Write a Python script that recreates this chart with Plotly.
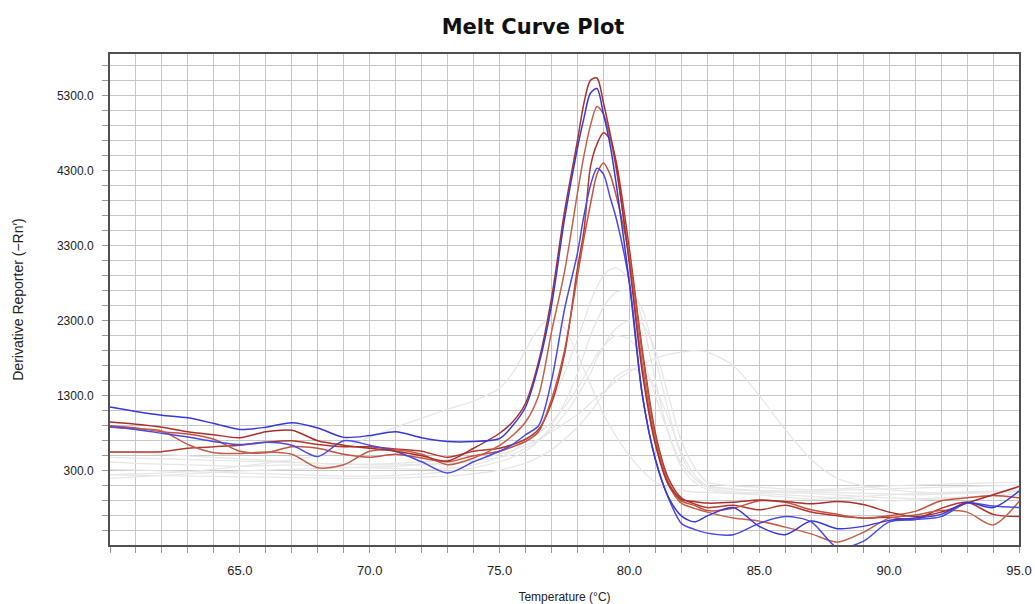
import plotly.graph_objects as go

# Temperature grid (°C)
temps = [60, 61, 62, 63, 64, 65, 66, 67, 68, 69, 70, 71, 72, 73, 74, 75,
         75.5, 76, 76.5, 77, 77.5, 78, 78.25, 78.5, 78.75, 79, 79.25, 79.5,
         80, 80.5, 81, 81.5, 82, 82.5, 83,
         84, 85, 86, 87, 88, 89, 90, 91, 92, 93, 94, 95]

# Highlighted wells (derivative reporter values)
blue_1 = [1150, 1090, 1040, 1005, 930, 850, 880, 940, 870, 745, 770, 820, 740, 690, 690, 730,
          900, 1150, 1700, 2500, 3650, 4600, 5000, 5330, 5390, 5050, 4650, 4100,
          2800, 1300, 450, -50, -300, -380, -300,
          -190, -440, -550, -370, -470, -440, -360, -330, -280, -120, -190, 30]
blue_2 = [890, 850, 800, 750, 690, 650, 680, 640, 490, 700, 640, 560, 420, 270, 420, 560,
          650, 780, 900, 1500, 2450, 3200, 3700, 4100, 4330, 4250, 3950, 3650,
          2800, 1300, 450, -60, -400, -480, -530,
          -550, -400, -310, -380, -720, -640, -380, -350, -310, -130, -170, -190]
red_1 = [950, 920, 880, 820, 780, 740, 820, 840, 700, 640, 600, 560, 500, 430, 600, 800,
         950, 1200, 1750, 2600, 3750, 4700, 5200, 5500, 5530, 5200, 4800, 4350,
         3050, 1600, 650, 120, -80, -110, -130,
         -120, -90, -110, -140, -110, -150, -250, -310, -250, -130, -20, 90]
red_2 = [880, 860, 830, 650, 540, 530, 550, 520, 340, 380, 560, 580, 520, 380, 470, 640,
         770, 950, 1300, 2150, 2950, 4000, 4500, 4900, 5150, 5050, 4750, 4300,
         3100, 1700, 700, 120, -130, -200, -250,
         -330, -370, -450, -540, -650, -520, -330, -290, -230, -250, -420, -110]
red_3 = [550, 550, 555, 600, 620, 640, 680, 700, 650, 620, 620, 590, 560, 480, 560, 600,
         650, 720, 850, 1200, 1850, 3000, 3500, 4350, 4650, 4800, 4720, 4400,
         3250, 1900, 800, 200, -60, -140, -190,
         -160, -220, -160, -250, -300, -330, -320, -350, -200, -120, -280, -310]
red_4 = [900, 870, 820, 790, 720, 560, 540, 620, 600, 520, 480, 520, 470, 420, 500, 560,
         620, 690, 820, 1250, 1900, 2900, 3400, 3850, 4250, 4400, 4250, 3950,
         3150, 1850, 750, 150, -100, -160, -230,
         -200, -100, -120, -220, -280, -330, -300, -240, -100, -60, -30, -60]

# Background (non-selected) wells
gray_1 = [420, 400, 390, 380, 370, 360, 370, 380, 370, 350, 340, 330, 320, 330, 380, 480,
          560, 700, 900, 1200, 1600, 2050, 2300, 2550, 2750, 2900, 2980, 3000,
          2850, 2300, 1500, 800, 350, 150, 50,
          0, -20, -50, -80, -60, -40, -20, 0, 10, 20, 30, 40]
gray_2 = [320, 310, 300, 290, 280, 270, 260, 250, 240, 230, 230, 240, 260, 290, 340, 420,
          480, 560, 700, 900, 1200, 1600, 1850, 2100, 2300, 2480, 2600, 2680,
          2700, 2450, 1800, 1100, 500, 200, 80,
          20, 0, -20, -40, -60, -80, -100, -90, -70, -50, -30, -10]
gray_3 = [550, 540, 520, 500, 480, 460, 440, 420, 400, 390, 380, 380, 390, 400, 430, 480,
          520, 600, 700, 850, 1050, 1300, 1450, 1600, 1800, 1950, 2100, 2200,
          2300, 2250, 1900, 1300, 700, 350, 150,
          100, 80, 60, 50, 60, 80, 100, 110, 120, 130, 140, 150]
gray_4 = [250, 240, 235, 230, 225, 220, 215, 210, 205, 200, 200, 205, 215, 230, 260, 310,
          350, 400, 480, 580, 720, 880, 980, 1080, 1200, 1320, 1450, 1560,
          1650, 1620, 1400, 1000, 550, 250, 100,
          50, 30, 10, 0, -20, -40, -60, -70, -60, -50, -40, -30]
gray_5 = [250, 260, 270, 290, 320, 360, 400, 450, 500, 600, 750, 880, 1000, 1120, 1230, 1400,
          1600, 1900, 2200, 2330, 2200, 1850, 1650, 1450, 1250, 1050, 900, 750,
          500, 300, 150, 80, 40, 20, 10,
          0, 10, 20, 30, 40, 50, 60, 70, 80, 90, 100, 110]
gray_6 = [200, 220, 240, 260, 280, 300, 310, 320, 330, 340, 350, 360, 380, 400, 450, 520,
          570, 640, 720, 820, 930, 1050, 1120, 1200, 1280, 1350, 1420, 1500,
          1620, 1720, 1800, 1850, 1880, 1900, 1880,
          1700, 1300, 850, 450, 200, 100, 50, 20, 0, 10, 20, 30]
gray_7 = [480, 470, 460, 450, 440, 430, 420, 410, 400, 390, 390, 400, 420, 450, 500, 560,
          620, 700, 800, 950, 1150, 1400, 1550, 1700, 1850, 1950, 2050, 2100,
          2050, 1800, 1300, 800, 400, 200, 100,
          60, 40, 30, 20, 10, 0, -10, -20, -10, 0, 10, 20]

background = [gray_1, gray_2, gray_3, gray_4, gray_5, gray_6, gray_7]
highlight = [
    (red_3, "#b0382e"), (red_4, "#c4523f"), (red_2, "#c2604a"),
    (blue_2, "#4a4ae2"), (red_1, "#a8302c"), (blue_1, "#3838da"),
]

fig = go.Figure()
for vals in background:
    fig.add_trace(go.Scatter(x=temps, y=vals, mode="lines",
                             line=dict(color="#e6e6e6", width=1.2, shape="spline", smoothing=0.8),
                             showlegend=False, hoverinfo="skip"))
for vals, col in highlight:
    fig.add_trace(go.Scatter(x=temps, y=vals, mode="lines",
                             line=dict(color=col, width=1.5, shape="spline", smoothing=0.8),
                             showlegend=False))

grid_col = "#c6c6c6"
axis_col = "#505050"
label_family = "Liberation Sans, Arial, sans-serif"

fig.update_layout(
    width=1035, height=604,
    margin=dict(l=110, r=16, t=54, b=59),
    paper_bgcolor="white", plot_bgcolor="white",
    title=dict(text="<b>Melt Curve Plot</b>", x=533 / 1035, xanchor="center",
               y=1 - 27 / 604, yanchor="middle", yref="container",
               font=dict(family="DejaVu Sans, Verdana, sans-serif", size=21, color="#111111")),
    xaxis=dict(
        range=[60, 95], tickmode="array", automargin=False,
        tickvals=[65, 70, 75, 80, 85, 90, 95],
        ticktext=["65.0", "70.0", "75.0", "80.0", "85.0", "90.0", "95.0"],
        showgrid=True, gridcolor=grid_col, gridwidth=1,
        ticks="outside", ticklen=6, tickcolor="#999999", ticklabelstandoff=6,
        minor=dict(tick0=60, dtick=1, showgrid=True, gridcolor=grid_col, gridwidth=1,
                   ticks="outside", ticklen=6, tickcolor="#999999"),
        showline=True, linecolor=axis_col, linewidth=2, mirror=True,
        zeroline=False, tickfont=dict(family=label_family, size=13, color="#222222"),
        title=dict(text="Temperature (°C)", standoff=18,
                   font=dict(family=label_family, size=12, color="#222222")),
    ),
    yaxis=dict(
        range=[-688, 5850], tick0=300, dtick=1000, tickformat=".1f", automargin=False,
        showgrid=True, gridcolor=grid_col, gridwidth=1,
        ticks="outside", ticklen=6, tickcolor="#999999", ticklabelstandoff=6,
        minor=dict(tick0=300, dtick=200, showgrid=True, gridcolor=grid_col, gridwidth=1,
                   ticks="outside", ticklen=6, tickcolor="#999999"),
        showline=True, linecolor=axis_col, linewidth=2, mirror=True,
        zeroline=False, tickfont=dict(family=label_family, size=12, color="#222222"),
        title=dict(text="Derivative Reporter (−Rn′)", standoff=30,
                   font=dict(family=label_family, size=14, color="#222222")),
    ),
)

fig.write_html("out.html")
